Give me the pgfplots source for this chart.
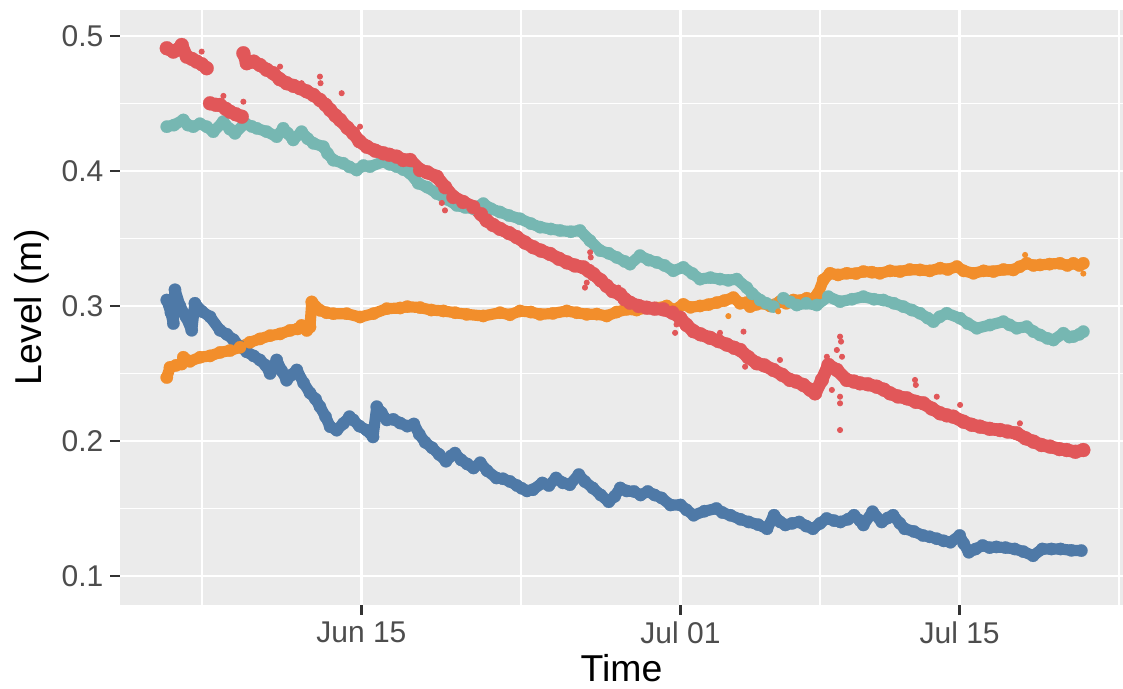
\documentclass[border=0pt]{standalone}
\usepackage{fontspec}
\setmainfont{Liberation Sans}
\usepackage{pgfplots}
\pgfplotsset{compat=1.18}

\definecolor{panel}{HTML}{EBEBEB}
\definecolor{tickgrey}{HTML}{333333}
\definecolor{labelgrey}{HTML}{4D4D4D}
\definecolor{sblue}{HTML}{4E79A7}
\definecolor{sorange}{HTML}{F28E2B}
\definecolor{sred}{HTML}{E15759}
\definecolor{steal}{HTML}{76B7B2}

% x = days since Jun 01
\begin{document}
\begin{tikzpicture}
\begin{axis}[
  name=ax,
  scale only axis,
  width=501.5pt, height=297.75pt,
  xmin=1.894, xmax=52.19,
  ymin=0.0785, ymax=0.5196,
  axis background/.style={fill=panel},
  axis line style={draw=none},
  xtick={14,30,44},
  xticklabels={Jun 15,Jul 01,Jul 15},
  minor xtick={6,22,37,52},
  ytick={0.1,0.2,0.3,0.4,0.5},
  yticklabels={0.1,0.2,0.3,0.4,0.5},
  minor ytick={0.15,0.25,0.35,0.45},
  grid=both,
  major grid style={white, line width=1.4pt},
  minor grid style={white, line width=0.75pt},
  tick align=outside,
  tick pos=left,
  major tick length=4.75pt,
  minor tick length=0pt,
  tick style={tickgrey, line width=1.3pt},
  ticklabel style={font=\fontsize{15}{18}\selectfont, text=labelgrey},
  xlabel={Time},
  ylabel={Level (m)},
  label style={font=\fontsize{18.7}{22}\selectfont, text=black},
  xlabel style={at={(axis description cs:0.5,-0.1285)}, anchor=base},
  ylabel style={at={(axis description cs:-0.078,0.5)}, anchor=base},
  every axis plot/.append style={line join=round, line cap=round},
  band/.style={line width=5.6pt, mark=*, mark size=3.1pt, mark options={line width=0.1pt}},
  redband/.style={line width=6.4pt, mark=*, mark size=3.5pt, mark options={line width=0.1pt}},
]

% blue
\addplot[sblue, band] coordinates {
(4.24,0.3044) (4.45,0.295) (4.57,0.287) (4.65,0.312) (4.9,0.300) (5.2,0.292)
(5.49,0.282) (5.65,0.302) (6.0,0.296) (6.41,0.292) (6.91,0.282) (7.25,0.279)
(7.58,0.275) (7.91,0.270) (8.25,0.266) (8.6,0.263) (8.91,0.260) (9.2,0.256)
(9.42,0.250) (9.75,0.260) (10.0,0.252) (10.25,0.245) (10.5,0.249) (10.76,0.2526)
(11.1,0.243) (11.42,0.2356) (11.7,0.231) (11.92,0.2254) (12.2,0.218) (12.43,0.2106)
(12.76,0.208) (13.1,0.213) (13.4,0.218) (13.59,0.2156) (13.9,0.211) (14.27,0.208)
(14.58,0.203) (14.77,0.2254) (15.0,0.221) (15.27,0.2156) (15.6,0.216) (15.94,0.2133)
(16.3,0.211) (16.63,0.2126) (16.9,0.205) (17.2,0.199) (17.54,0.195) (17.9,0.190)
(18.24,0.185) (18.5,0.189) (18.69,0.191) (19.0,0.186) (19.3,0.183) (19.62,0.180)
(19.96,0.1839) (20.3,0.178) (20.77,0.1726) (21.1,0.172) (21.45,0.170) (21.8,0.167)
(22.03,0.165) (22.3,0.163) (22.6,0.1639) (23.07,0.1689) (23.4,0.167) (23.76,0.1726)
(24.1,0.169) (24.45,0.1676) (24.9,0.1751) (25.2,0.170) (25.6,0.1652) (26.0,0.160)
(26.4,0.155) (26.7,0.159) (26.98,0.1652) (27.3,0.163) (27.67,0.1626) (28.0,0.160)
(28.36,0.1626) (28.7,0.160) (29.05,0.1578) (29.5,0.1526) (30.0,0.1526) (30.3,0.149)
(30.66,0.145) (31.2,0.148) (31.8,0.150) (32.1,0.147) (32.5,0.145) (33.0,0.142)
(33.42,0.140) (33.9,0.138) (34.34,0.135) (34.69,0.145) (35.0,0.140) (35.26,0.1378)
(35.6,0.139) (35.95,0.140) (36.3,0.137) (36.64,0.135) (37.0,0.139) (37.33,0.1426)
(37.7,0.141) (38.02,0.140) (38.4,0.142) (38.7,0.145) (39.0,0.141) (39.17,0.1378)
(39.63,0.1476) (40.09,0.140) (40.4,0.143) (40.66,0.145) (41.0,0.139) (41.24,0.135)
(41.7,0.133) (42.16,0.130) (42.5,0.129) (42.85,0.1276) (43.2,0.126) (43.54,0.125)
(44.0,0.130) (44.2,0.124) (44.46,0.1176) (44.8,0.120) (45.15,0.1226) (45.5,0.121)
(45.84,0.1215) (46.3,0.121) (46.76,0.120) (47.2,0.118) (47.68,0.115) (48.14,0.120)
(48.6,0.120) (49.06,0.120) (49.6,0.119) (50.1,0.1188)
};

% orange
\addplot[sorange, band] coordinates {
(4.24,0.247) (4.4,0.2545) (4.7,0.256) (4.99,0.257) (5.07,0.262) (5.4,0.259)
(5.91,0.262) (6.41,0.263) (6.91,0.2656) (7.41,0.267) (7.91,0.2694) (8.41,0.2731)
(8.91,0.2756) (9.42,0.278) (9.92,0.2793) (10.42,0.2819) (10.8,0.283) (11.0,0.2856)
(11.26,0.2819) (11.42,0.2844)
(11.51,0.303) (11.92,0.2968) (12.25,0.295) (12.59,0.2943) (13.26,0.2943) (13.93,0.2918)
(14.6,0.2943) (15.27,0.298) (15.94,0.2985) (16.3,0.2995) (16.94,0.2988) (17.5,0.297)
(18.11,0.2963) (18.7,0.295) (19.28,0.2938) (20.11,0.2926) (20.95,0.295) (21.45,0.2935)
(21.95,0.2963) (22.5,0.2955) (22.96,0.2938) (23.6,0.2945) (24.3,0.2963) (24.8,0.295)
(25.3,0.2938) (25.8,0.294) (26.3,0.2926) (26.8,0.2955) (27.3,0.2975) (27.8,0.297)
(28.31,0.2988) (28.8,0.2985) (29.31,0.300) (29.7,0.297) (30.14,0.3012) (30.5,0.299)
(30.98,0.300) (31.4,0.301) (31.82,0.3025) (32.2,0.304) (32.65,0.3062) (32.99,0.302)
(33.32,0.3025) (33.49,0.2995) (33.82,0.3012) (34.16,0.302) (34.5,0.300) (34.99,0.3032)
(35.3,0.302) (35.66,0.3044) (36.0,0.304) (36.33,0.3057) (36.6,0.305) (36.91,0.3094)
(37.16,0.3193) (37.5,0.3242) (37.9,0.323) (38.34,0.3242) (38.8,0.324) (39.17,0.3255)
(39.6,0.325) (40.0,0.3242) (40.5,0.326) (41.01,0.3255) (41.5,0.327) (42.01,0.3267)
(42.5,0.326) (43.02,0.328) (43.4,0.327) (43.86,0.3292) (44.2,0.326) (44.69,0.3242)
(45.2,0.326) (45.69,0.3255) (46.2,0.327) (46.69,0.3267) (47.0,0.329) (47.36,0.3316)
(47.7,0.330) (48.03,0.3304) (48.5,0.331) (49.03,0.3316) (49.4,0.330) (49.7,0.3316)
(50.0,0.330) (50.2,0.3316)
};

% teal
\addplot[steal, band] coordinates {
(4.24,0.4328) (4.6,0.434) (5.07,0.4378) (5.3,0.434) (5.57,0.4328) (5.9,0.435)
(6.24,0.4328) (6.57,0.4291) (7.07,0.4365) (7.4,0.431) (7.66,0.4279) (8.16,0.4353)
(8.5,0.433) (8.75,0.4316) (9.25,0.4291) (9.75,0.4254) (10.08,0.4316) (10.3,0.428)
(10.58,0.423) (11.0,0.4291) (11.3,0.424) (11.59,0.4205) (12.09,0.418) (12.3,0.413)
(12.59,0.408) (13.09,0.4057) (13.4,0.403) (13.76,0.4007) (14.1,0.404) (14.43,0.4032)
(15.1,0.4069) (15.4,0.405) (15.77,0.4032) (16.1,0.401) (16.44,0.3983) (16.85,0.3909)
(17.3,0.388) (17.78,0.3833) (18.3,0.379) (18.78,0.3745) (19.2,0.373) (19.61,0.3721)
(20.11,0.3758) (20.5,0.372) (20.95,0.3696) (21.4,0.367) (21.95,0.3646) (22.5,0.361)
(22.96,0.3584) (23.5,0.357) (23.96,0.3559) (24.5,0.355) (24.96,0.3559) (25.46,0.3484)
(25.97,0.341) (26.4,0.339) (26.8,0.336) (27.2,0.333) (27.47,0.331) (27.97,0.3373)
(28.4,0.334) (28.81,0.3323) (29.2,0.330) (29.64,0.3261) (30.14,0.3286) (30.6,0.324)
(30.98,0.3199) (31.5,0.321) (31.98,0.3199) (32.4,0.319) (32.82,0.3199) (33.32,0.3136)
(33.6,0.309) (33.99,0.3044) (34.3,0.302) (34.66,0.2995) (35.16,0.3057) (35.5,0.303)
(35.83,0.3007) (36.3,0.302) (36.83,0.3007) (37.41,0.3069) (38.0,0.3032) (38.6,0.305)
(39.17,0.3069) (39.7,0.305) (40.17,0.3044) (40.7,0.302) (41.18,0.2995) (41.6,0.297)
(42.01,0.2946) (42.4,0.291) (42.68,0.2884) (43.0,0.292) (43.35,0.2946) (44.02,0.2909)
(44.4,0.287) (44.86,0.2835) (45.52,0.2859) (46.19,0.2884) (46.5,0.286) (46.86,0.2835)
(47.36,0.2847) (47.7,0.281) (48.03,0.2785) (48.4,0.276) (48.7,0.2748) (49.2,0.2798)
(49.5,0.277) (49.7,0.2773) (50.0,0.279) (50.2,0.281)
};

% red, three pieces
\addplot[sred, redband] coordinates {
(4.24,0.4909) (4.57,0.4884) (4.8,0.490) (4.99,0.4933) (5.24,0.4847) (5.5,0.483)
(5.74,0.481) (6.0,0.479) (6.24,0.4761)
};
\addplot[sred, redband] coordinates {
(6.41,0.4501) (6.7,0.449) (6.91,0.4489) (7.2,0.446) (7.41,0.4439) (7.7,0.442) (8.0,0.4402)
};
\addplot[sred, redband] coordinates {
(8.08,0.4872) (8.25,0.4798) (8.6,0.481) (8.91,0.4785) (9.25,0.475) (9.58,0.4724)
(9.9,0.468) (10.25,0.465) (10.6,0.463) (10.92,0.4613) (11.25,0.459) (11.59,0.4563)
(11.92,0.4526) (12.2,0.449) (12.43,0.4452) (12.7,0.441) (12.93,0.4378) (13.3,0.432)
(13.59,0.4279) (13.9,0.422) (14.27,0.418) (14.7,0.415) (15.1,0.4131) (15.4,0.412)
(15.77,0.4106) (16.1,0.4081) (16.44,0.4081) (16.94,0.4007) (17.3,0.399) (17.78,0.3957)
(18.2,0.388) (18.61,0.3807) (19.1,0.377) (19.61,0.3733) (20.0,0.368) (20.28,0.3633)
(20.6,0.360) (20.95,0.3571) (21.4,0.354) (21.79,0.351) (22.2,0.347) (22.62,0.3435)
(23.0,0.341) (23.46,0.3385) (23.9,0.335) (24.3,0.3323) (24.7,0.330) (25.13,0.3286)
(25.4,0.326) (25.63,0.3236) (26.0,0.319) (26.3,0.3149) (26.6,0.311) (26.97,0.3087)
(27.2,0.305) (27.47,0.3024) (27.9,0.300) (28.31,0.2987) (28.7,0.298) (29.14,0.2975)
(29.6,0.295) (29.98,0.2913) (30.3,0.286) (30.65,0.2813) (31.0,0.279) (31.48,0.2764)
(31.9,0.274) (32.32,0.2714) (32.7,0.269) (32.99,0.2674) (33.4,0.262) (33.82,0.2576)
(34.2,0.256) (34.66,0.2526) (35.1,0.249) (35.49,0.2452) (35.8,0.244) (36.16,0.2415)
(36.5,0.238) (36.75,0.2353) (37.09,0.2452) (37.42,0.2563) (37.84,0.2526) (38.34,0.2452)
(38.7,0.244) (39.0,0.2427) (39.4,0.242) (39.84,0.2402) (40.2,0.238) (40.51,0.2353)
(40.9,0.233) (41.35,0.2316) (41.8,0.229) (42.18,0.2279) (42.6,0.224) (43.02,0.2205)
(43.35,0.219) (43.68,0.218) (44.19,0.2143) (44.6,0.212) (45.02,0.2106) (45.5,0.209)
(46.03,0.2081) (46.4,0.207) (46.86,0.2057) (47.3,0.202) (47.7,0.1995) (48.1,0.197)
(48.53,0.1958) (49.0,0.194) (49.37,0.1933) (49.8,0.192) (50.2,0.1933)
};

% stray readings
\addplot[only marks, mark=*, mark size=1.3pt, sred] coordinates {
(5.99,0.4884) (7.08,0.4556) (8.08,0.4513) (9.92,0.4773) (11.0,0.465) (11.92,0.4699)
(11.95,0.465) (13.01,0.4576) (13.93,0.4328) (14.0,0.418) (18.03,0.3763) (18.19,0.3708)
(25.47,0.3398) (25.5,0.336) (25.21,0.3136) (25.3,0.3173) (26.89,0.3136) (29.73,0.2801)
(29.8,0.2863) (31.98,0.2801) (33.16,0.281) (33.24,0.255) (34.99,0.26) (37.34,0.2624)
(37.84,0.2674) (38.0,0.2773) (38.05,0.2736) (38.1,0.2624) (37.59,0.2378) (38.0,0.2328)
(38.0,0.2279) (38.0,0.2081) (41.76,0.2452) (41.8,0.2415) (42.85,0.2328) (44.02,0.2267)
(47.02,0.2131)
};
\addplot[only marks, mark=*, mark size=1.3pt, sorange] coordinates {
(47.28,0.3378) (50.2,0.324) (32.4,0.2925) (34.9,0.296)
};
\end{axis}
\pgfresetboundingbox
\path[use as bounding box] ([shift={(-60pt,-41.5pt)}]ax.south west) rectangle ([shift={(0pt,4.75pt)}]ax.north east);
\end{tikzpicture}
\end{document}
